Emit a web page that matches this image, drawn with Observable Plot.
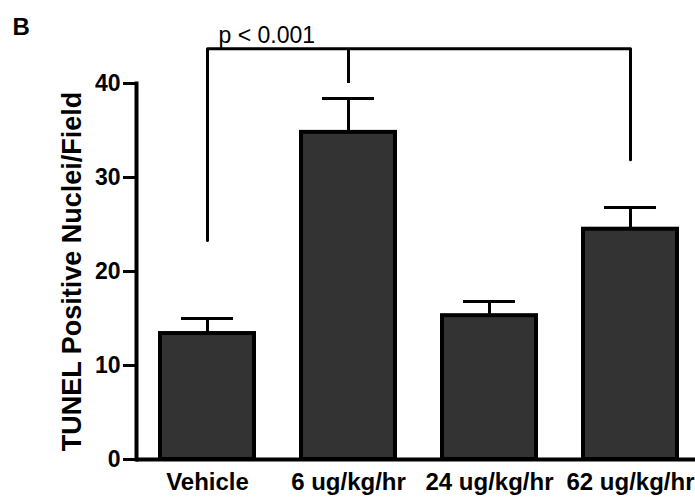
<!DOCTYPE html>
<html>
<head>
<meta charset="utf-8">
<script src="https://cdn.jsdelivr.net/npm/d3@7"></script>
<script src="https://cdn.jsdelivr.net/npm/@observablehq/plot@0.6"></script>
<style>
  html, body { margin: 0; padding: 0; background: #fff; }
  #chart { width: 695px; height: 499px; }
</style>
</head>
<body>
<div id="chart"></div>
<script>
// Treatment groups and TUNEL counts (mean and mean + SEM)
const groups = ["Vehicle", "6 ug/kg/hr", "24 ug/kg/hr", "62 ug/kg/hr"];
const means = [13.4, 34.8, 15.3, 24.5];
const upper = [15.0, 38.4, 16.8, 26.8];
const yTicks = [0, 10, 20, 30, 40];

// Significance bracket: Vehicle vs 62 ug/kg/hr, with a drop at 6 ug/kg/hr
const bracketX = ["Vehicle", "Vehicle", "62 ug/kg/hr", "62 ug/kg/hr"];
const bracketY = [23.3, 43.7, 43.7, 31.9];
const bracketDrop = {group: "6 ug/kg/hr", y1: 40.0, y2: 43.7};
const pLabel = "p < 0.001";
const pLabelY = 45.1;

const panelLabel = "B";
const yTitle = "TUNEL Positive Nuclei/Field";

const rows = groups.map((g, i) => ({group: g, mean: means[i], upper: upper[i]}));
const bracket = bracketX.map((x, i) => ({group: x, y: bracketY[i]}));

const font = "Liberation Sans, Arial, Helvetica, sans-serif";

const chart = Plot.plot({
  width: 695,
  height: 499,
  marginLeft: 136,
  marginRight: 0,
  marginTop: 83,
  marginBottom: 40,
  style: {fontFamily: font, background: "#fff", color: "#000", overflow: "visible"},
  x: {domain: groups, range: [136, 701], paddingInner: 0.333, paddingOuter: 0.17},
  y: {domain: [0, 40]},
  marks: [
    // error bars
    Plot.ruleX(rows, {x: "group", y1: "mean", y2: "upper", stroke: "#000", strokeWidth: 3}),
    Plot.tickY(rows, {x: "group", y: "upper", stroke: "#000", strokeWidth: 3, insetLeft: 21, insetRight: 21}),
    // bars
    Plot.barY(rows, {x: "group", y: "mean", fill: "#333333", stroke: "#000", strokeWidth: 4}),
    // axes
    Plot.axisY({ticks: yTicks, tickSize: 13, tickPadding: 3, fontSize: 23, fontWeight: "bold",
                strokeWidth: 3, label: null}),
    Plot.axisX({tickSize: 0, tickPadding: 13, fontSize: 24, fontWeight: "bold", label: null}),
    Plot.frame({anchor: "left", strokeWidth: 4}),
    Plot.ruleY([0], {strokeWidth: 4}),
    // significance bracket
    Plot.line(bracket, {x: "group", y: "y", stroke: "#000", strokeWidth: 3, curve: "linear"}),
    Plot.ruleX([bracketDrop], {x: "group", y1: "y1", y2: "y2", stroke: "#000", strokeWidth: 3}),
    Plot.text([pLabel], {x: () => "Vehicle", y: () => pLabelY, text: d => d, textAnchor: "start",
                         dx: 11, fontSize: 23, fill: "#000"}),
    // y-axis title
    Plot.text([yTitle], {frameAnchor: "left", text: d => d, rotate: -90, dx: -64,
                         textAnchor: "middle", lineAnchor: "middle",
                         fontSize: 27, fontWeight: "bold", fill: "#000"}),
    // panel letter
    Plot.text([panelLabel], {frameAnchor: "top-left", text: d => d, textAnchor: "start",
                             lineAnchor: "top", dx: -124, dy: -66, fontSize: 24, fontWeight: "bold", fill: "#000"})
  ]
});

document.getElementById("chart").appendChild(chart);
</script>
</body>
</html>
